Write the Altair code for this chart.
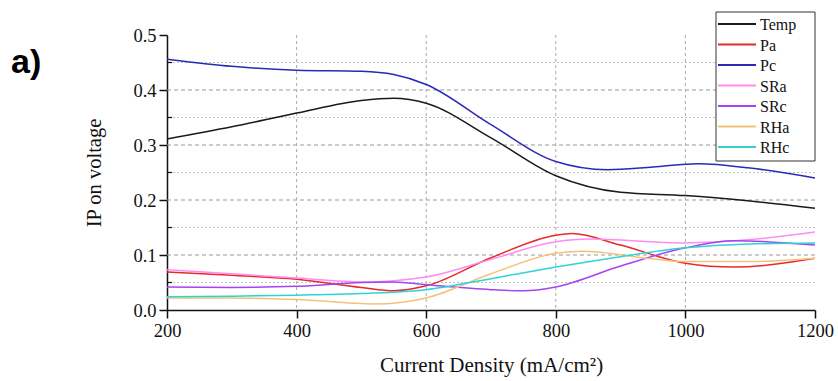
import altair as alt
import pandas as pd

series_names = ["Temp", "Pa", "Pc", "SRa", "SRc", "RHa", "RHc"]
series_colors = ["#1a1a1a", "#e52a2a", "#2a2ab4", "#ff8cf0", "#a444f2", "#f2c27a", "#30d2d2"]

temp_x = [200, 300, 400, 500, 550, 600, 700, 800, 900, 1000, 1100, 1200]
temp_y = [0.311, 0.333, 0.358, 0.381, 0.385, 0.376, 0.313, 0.244, 0.214, 0.208, 0.198, 0.185]

pa_x = [200, 300, 400, 500, 550, 600, 700, 800, 825, 900, 1000, 1075, 1200]
pa_y = [0.069, 0.063, 0.056, 0.041, 0.035, 0.044, 0.095, 0.136, 0.139, 0.118, 0.085, 0.078, 0.094]

pc_x = [200, 300, 400, 500, 550, 600, 700, 800, 880, 950, 1020, 1100, 1200]
pc_y = [0.456, 0.443, 0.436, 0.434, 0.428, 0.410, 0.337, 0.270, 0.255, 0.260, 0.266, 0.258, 0.240]

sra_x = [200, 300, 400, 500, 600, 700, 800, 850, 1000, 1100, 1200]
sra_y = [0.073, 0.066, 0.058, 0.051, 0.060, 0.092, 0.124, 0.129, 0.122, 0.128, 0.142]

src_x = [200, 300, 400, 500, 550, 600, 700, 750, 800, 900, 1000, 1075, 1200]
src_y = [0.042, 0.041, 0.043, 0.050, 0.051, 0.046, 0.037, 0.035, 0.042, 0.080, 0.113, 0.126, 0.118]

rha_x = [200, 300, 400, 520, 600, 700, 800, 840, 950, 1000, 1100, 1200]
rha_y = [0.022, 0.022, 0.019, 0.011, 0.022, 0.066, 0.103, 0.107, 0.093, 0.088, 0.088, 0.094]

rhc_x = [200, 300, 400, 500, 600, 700, 800, 900, 1000, 1100, 1200]
rhc_y = [0.024, 0.025, 0.027, 0.030, 0.037, 0.057, 0.078, 0.097, 0.113, 0.120, 0.122]

x_ticks = [200, 400, 600, 800, 1000, 1200]
y_ticks = [0.0, 0.1, 0.2, 0.3, 0.4, 0.5]
major_h = [0.1, 0.2, 0.3, 0.4]
minor_h = [0.05, 0.15, 0.25, 0.35, 0.45]
grid_v = [400, 600, 800, 1000]

xs = [temp_x, pa_x, pc_x, sra_x, src_x, rha_x, rhc_x]
ys = [temp_y, pa_y, pc_y, sra_y, src_y, rha_y, rhc_y]
rows = []
for name, sx, sy in zip(series_names, xs, ys):
    for a, b in zip(sx, sy):
        rows.append({"series": name, "x": a, "y": b})
df = pd.DataFrame(rows)

FONT = "Liberation Serif"
xscale = alt.Scale(domain=[200, 1200], nice=False, zero=False)
yscale = alt.Scale(domain=[0, 0.5], nice=False)

minor = alt.Chart(pd.DataFrame({"y": minor_h})).mark_rule(
    color="#c4c4c4", strokeDash=[2, 2], strokeWidth=1
).encode(y=alt.Y("y:Q", scale=yscale))
minor_ticks = alt.Chart(pd.DataFrame({"y": minor_h})).mark_rule(
    color="#111", strokeWidth=1.2
).encode(y=alt.Y("y:Q", scale=yscale), x=alt.value(0), x2=alt.value(5))
major = alt.Chart(pd.DataFrame({"y": major_h})).mark_rule(
    color="#9a9a9a", strokeDash=[4, 3], strokeWidth=1
).encode(y=alt.Y("y:Q", scale=yscale))
vert = alt.Chart(pd.DataFrame({"x": grid_v})).mark_rule(
    color="#aaaaaa", strokeDash=[3, 3], strokeWidth=1
).encode(x=alt.X("x:Q", scale=xscale))

lines = alt.Chart(df).mark_line(interpolate="monotone", strokeWidth=1.5).encode(
    x=alt.X("x:Q", scale=xscale,
            axis=alt.Axis(values=x_ticks, format="d", title="Current Density (mA/cm²)", grid=False,
                          labelFont=FONT, labelFontSize=18.5, labelColor="#111", labelFlush=False,
                          titleFont=FONT, titleFontSize=21, titleFontWeight="normal",
                          titleColor="#111", titlePadding=15, tickSize=8, tickColor="#111",
                          domainColor="#111", domainWidth=1.5, tickWidth=1.5, labelPadding=3)),
    y=alt.Y("y:Q", scale=yscale,
            axis=alt.Axis(values=y_ticks, format=".1f", title="IP on voltage", grid=False,
                          labelFont=FONT, labelFontSize=18.5, labelColor="#111", labelFlush=False,
                          titleFont=FONT, titleFontSize=20.5, titleFontWeight="normal",
                          titleColor="#111", titlePadding=28, tickSize=8, tickColor="#111",
                          domainColor="#111", domainWidth=1.5, tickWidth=1.5, labelPadding=3)),
    color=alt.Color("series:N", scale=alt.Scale(domain=series_names, range=series_colors), legend=None),
    detail="series:N",
)

one = pd.DataFrame({"a": [0]})
legend_layers = [
    alt.Chart(one).mark_rect(fill="white", stroke="#333", strokeWidth=1).encode(
        x=alt.value(549), x2=alt.value(648), y=alt.value(-23), y2=alt.value(126))
]
for i, (name, col) in enumerate(zip(series_names, series_colors)):
    yy = -11 + i * 20.5
    legend_layers.append(
        alt.Chart(one).mark_rule(color=col, strokeWidth=2).encode(
            x=alt.value(551), x2=alt.value(589), y=alt.value(yy)))
    legend_layers.append(
        alt.Chart(one).mark_text(text=name, align="left", baseline="middle", font=FONT,
                                 fontSize=16, color="#111").encode(
            x=alt.value(593), y=alt.value(yy + 1)))

label_a = alt.Chart(one).mark_text(text="a)", align="left", baseline="alphabetic",
                                    font="Liberation Sans", fontSize=34, fontWeight="bold",
                                    color="#000").encode(x=alt.value(-156), y=alt.value(38))

chart = alt.layer(minor, major, vert, minor_ticks, lines, *legend_layers, label_a).properties(
    width=648, height=275,
    autosize=alt.AutoSizeParams(type="none"),
    padding={"left": 167, "top": 35, "right": 23, "bottom": 71},
    background="white",
).configure_view(stroke=None)

chart.save("out.html", embed_options={"renderer": "svg", "actions": False})
